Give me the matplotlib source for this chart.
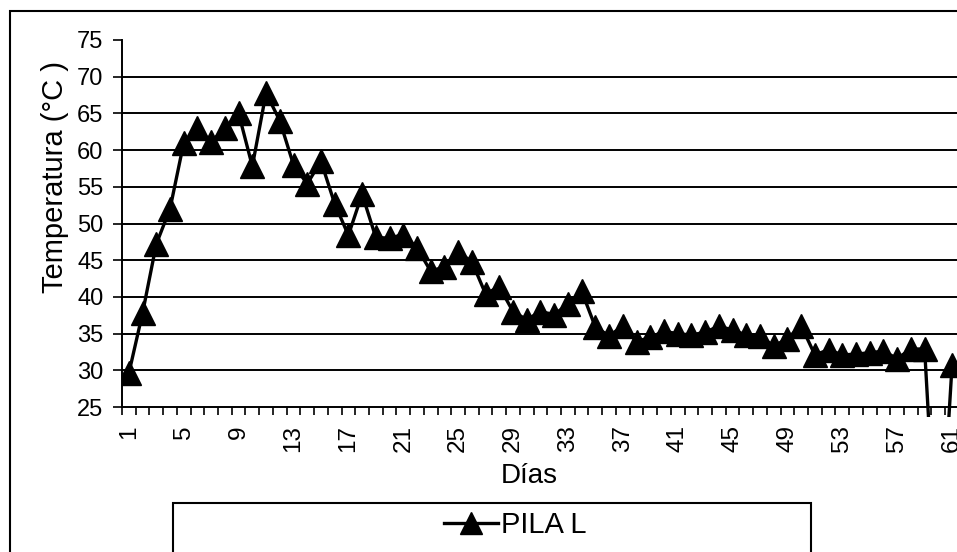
import numpy as np
import matplotlib
matplotlib.use("Agg")
import matplotlib.pyplot as plt
from matplotlib.patches import Rectangle
from matplotlib.lines import Line2D
from matplotlib.transforms import Bbox, TransformedBbox

plt.rcParams['font.family'] = ['Liberation Sans', 'DejaVu Sans']

# ---- data ----
days = list(range(1, 62))
temperatura = [
    29.6, 37.8, 47.2, 52.0, 61.0, 63.0, 61.1, 63.0, 65.0, 57.8,
    67.8, 64.0, 58.0, 55.4, 58.5, 52.7, 48.4, 54.0, 48.1, 48.0,
    48.5, 46.7, 43.5, 44.1, 46.1, 44.8, 40.4, 41.4, 38.0, 36.9,
    38.0, 37.6, 39.0, 40.8, 35.9, 34.7, 36.0, 33.9, 34.5, 35.3,
    35.0, 34.8, 35.2, 36.0, 35.5, 34.8, 34.7, 33.3, 34.3, 36.1,
    32.1, 32.8, 32.1, 32.2, 32.4, 32.6, 31.6, 32.9, 32.9, 0.0,
    30.7,
]
series_name = "PILA L"
y_ticks = list(range(25, 80, 5))
x_label = "Días"
y_label = "Temperatura (°C )"

W, H = 957, 552
fig = plt.figure(figsize=(W / 100, H / 100), dpi=100)

def fx(px):
    return px / W

def fy(py):
    return 1 - py / H

# axes: left at x=122, value 25 at y=407, value 75 at y=40, 61 categories of 13.72 px
ax_left, ax_right = 122, 122 + 61 * 13.72
ax_top, ax_bot = 40, 407
ax = fig.add_axes([fx(ax_left), fy(ax_bot), fx(ax_right - ax_left), (ax_bot - ax_top) / H])

line, = ax.plot(days, temperatura, color='black', lw=2.4, marker='^', markersize=17,
                markerfacecolor='black', markeredgecolor='black', zorder=3)
line.set_clip_box(TransformedBbox(Bbox([[0, -0.028], [1.0, 1.1]]), ax.transAxes))

ax.set_xlim(0.5, 61.5)
ax.set_ylim(25, 75)

# grid lines at 30..70
for v in y_ticks[1:-1]:
    ax.axhline(v, color='black', lw=1.4, zorder=1)

ax.set_yticks(y_ticks)
ax.set_yticklabels([str(v) for v in y_ticks])
ax.tick_params(axis='y', direction='out', length=6.5, width=1.2, labelsize=17, pad=7)

ax.set_xticks(days[::4])
ax.set_xticklabels([str(d) for d in days[::4]], rotation=90)
ax.set_xticks(np.arange(0.5, 62, 1), minor=True)
ax.tick_params(axis='x', which='major', length=0, labelsize=17.5, pad=13)
ax.tick_params(axis='x', which='minor', direction='out', length=5.5, width=1.2)

for s in ['top', 'right']:
    ax.spines[s].set_visible(False)
for s in ['left', 'bottom']:
    ax.spines[s].set_linewidth(1.4)
    ax.spines[s].set_color('black')

ax.set_facecolor('none')

fig.text(fx(529), fy(476), x_label, ha='center', va='center', fontsize=20)
fig.text(fx(55), fy(177), y_label, ha='center', va='center', fontsize=21, rotation=90)

# chart outer border
fig.patches.append(Rectangle((fx(10), fy(H + 20)), fx(W + 20), (H + 20 - 11) / H,
                             transform=fig.transFigure, fill=False, ec='black', lw=1.5))
# legend box
fig.patches.append(Rectangle((fx(173), fy(H + 20)), fx(811 - 173), (H + 20 - 503) / H,
                             transform=fig.transFigure, fill=False, ec='black', lw=1.5))

handle = Line2D([], [], color='black', lw=2.4, marker='^', markersize=16,
                markerfacecolor='black')
fig.legend([handle], [series_name], loc='center', bbox_to_anchor=(fx(515), fy(525)),
           bbox_transform=fig.transFigure, frameon=False, fontsize=21,
           handlelength=1.85, handletextpad=0.1, borderpad=0)

fig.savefig("out.png", dpi=100)
